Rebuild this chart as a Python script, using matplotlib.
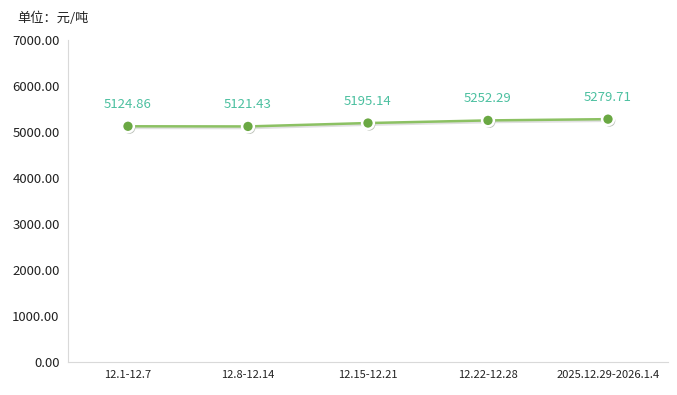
import matplotlib.pyplot as plt
import matplotlib.patheffects as pe

plt.rcParams['font.family'] = ['Noto Sans CJK SC', 'DejaVu Sans']

# 주간 가격 데이터
weeks = ['12.1-12.7', '12.8-12.14', '12.15-12.21', '12.22-12.28', '2025.12.29-2026.1.4']
prices = [5124.86, 5121.43, 5195.14, 5252.29, 5279.71]

fig = plt.figure(figsize=(6.77, 3.95), dpi=100)
ax = fig.add_axes([0.1004, 0.0835, 0.8863, 0.8152])

x = list(range(len(weeks)))
shadow = [pe.SimpleLineShadow(offset=(0.8, -1.2), shadow_color='#000000', alpha=0.12), pe.Normal()]
ax.plot(x, prices, color='#8cc163', lw=1.8, zorder=2, path_effects=shadow)
ax.plot(x, prices, 'o', ms=8.5, mfc='#6aa843', mec='white', mew=1.8, zorder=3,
        path_effects=[pe.SimplePatchShadow(offset=(1, -1.2), alpha=0.3), pe.Normal()])

for xi, v in zip(x, prices):
    ax.annotate(f'{v:.2f}', (xi, v), xytext=(0, 11), textcoords='offset points',
                ha='center', va='bottom', color='#4cc0a0', fontsize=9.5)

ax.set_xlim(-0.5, len(weeks) - 0.5)
ax.set_ylim(0, 7000)
ax.set_yticks(range(0, 7001, 1000))
ax.set_yticklabels([f'{t:.2f}' for t in range(0, 7001, 1000)], fontsize=9.5)
ax.set_xticks(x)
ax.set_xticklabels(weeks, fontsize=8)
ax.tick_params(length=0, pad=6, colors='#222222')

for s in ['top', 'right']:
    ax.spines[s].set_visible(False)
ax.spines['left'].set_color('#d9d9d9')
ax.spines['bottom'].set_color('#d9d9d9')

fig.text(0.025, 0.955, '单位：元/吨', fontsize=9.5, va='center', color='#222222')

plt.savefig('out.png', dpi=100)
